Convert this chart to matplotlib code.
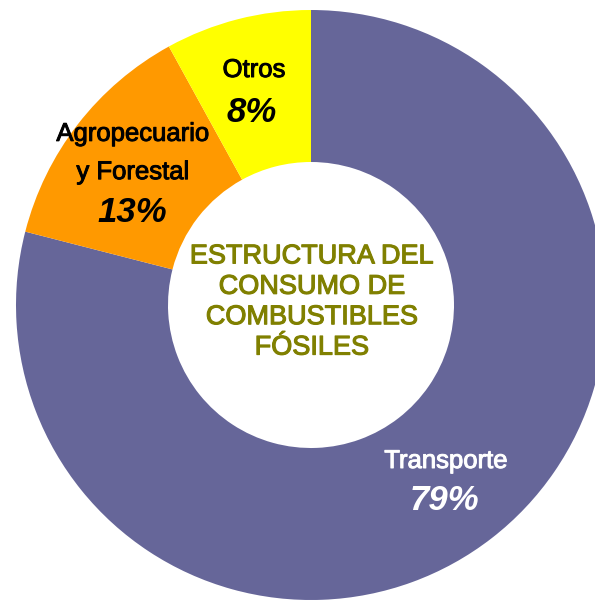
import matplotlib.pyplot as plt
import matplotlib.patheffects as pe

# data
sectores = ['Transporte', 'Agropecuario\ny Forestal', 'Otros']
porcentajes = [79, 13, 8]
colores = ['#666699', '#FF9900', '#FFFF00']
color_texto = ['white', 'black', 'black']
titulo_centro = 'ESTRUCTURA DEL\nCONSUMO DE\nCOMBUSTIBLES\nFÓSILES'

W, H = 595, 603
plt.rcParams['font.family'] = ['Liberation Sans', 'DejaVu Sans']

fig = plt.figure(figsize=(W / 100, H / 100), dpi=100)
ax = fig.add_axes([0, 0, 1, 1])

cx, cy, r_out, r_in = 311, H - 305, 295, 143
ax.pie(porcentajes, colors=colores, startangle=90, counterclock=False,
       center=(cx, cy), radius=r_out,
       wedgeprops=dict(width=r_out - r_in, linewidth=0))

ax.set_xlim(0, W)
ax.set_ylim(0, H)
ax.set_aspect('auto')
ax.axis('off')

# label positions (pixel coords from top): name (x, y), percent (x, y)
posiciones = [((446, 461), (444, 501)),
              ((133, 153), (132, 213)),
              ((254, 70), (252, 113))]

for nombre, pct, col, (pn, pp) in zip(sectores, porcentajes, color_texto, posiciones):
    t = ax.text(pn[0], H - pn[1], nombre, ha='center', va='center',
                fontsize=18.5, color=col, linespacing=1.75)
    t.set_path_effects([pe.withStroke(linewidth=0.7, foreground=col)])
    ax.text(pp[0], H - pp[1], f'{pct}%', ha='center', va='center',
            fontsize=25, fontweight='bold', fontstyle='italic', color=col)

t = ax.text(312, H - 302, titulo_centro, ha='center', va='center',
            fontsize=19.5, color='#808000', linespacing=1.22)
t.set_path_effects([pe.withStroke(linewidth=0.8, foreground='#808000')])

fig.savefig('out.png', dpi=100)
